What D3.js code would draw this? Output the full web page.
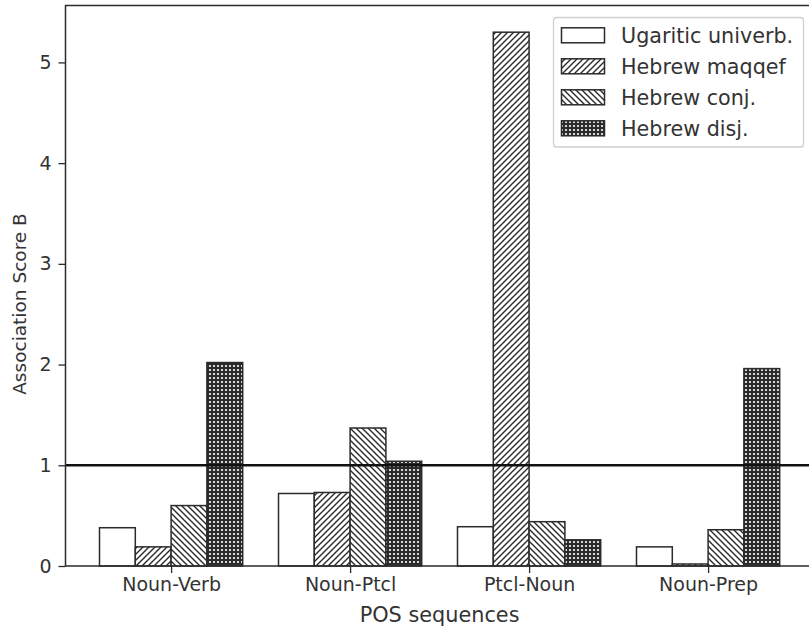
<!DOCTYPE html>
<html>
<head>
<meta charset="utf-8">
<script src="https://cdn.jsdelivr.net/npm/d3@7"></script>
<style>
  html, body { margin: 0; padding: 0; background: #fff; }
  svg { display: block; font-family: "DejaVu Sans", sans-serif; }
</style>
</head>
<body>
<svg id="chart" width="809" height="629"></svg>
<script>
// POS sequence categories on the x axis
const categories = ["Noun-Verb", "Noun-Ptcl", "Ptcl-Noun", "Noun-Prep"];

// Association score B per sequence, one array per series
const ugariticUniverb = [0.38, 0.72, 0.39, 0.19];
const hebrewMaqqef    = [0.19, 0.73, 5.30, 0.02];
const hebrewConj      = [0.60, 1.37, 0.44, 0.36];
const hebrewDisj      = [2.02, 1.04, 0.26, 1.96];

const seriesNames = ["Ugaritic univerb.", "Hebrew maqqef", "Hebrew conj.", "Hebrew disj."];
const seriesValues = [ugariticUniverb, hebrewMaqqef, hebrewConj, hebrewDisj];
const yTicks = [0, 1, 2, 3, 4, 5];
const referenceLine = 1;

const svg = d3.select("#chart");
const ink = "#2b2b2b";

// hatch patterns: none, forward diagonal, back diagonal, dense dots
const defs = svg.append("defs");
const fwd = defs.append("pattern").attr("id", "hatch-fwd")
  .attr("patternUnits", "userSpaceOnUse").attr("width", 6).attr("height", 6);
fwd.append("rect").attr("width", 6).attr("height", 6).attr("fill", "#fff");
fwd.append("path").attr("d", "M-1.5,1.5 L1.5,-1.5 M0,6 L6,0 M4.5,7.5 L7.5,4.5")
  .attr("stroke", ink).attr("stroke-width", 1.4);

const back = defs.append("pattern").attr("id", "hatch-back")
  .attr("patternUnits", "userSpaceOnUse").attr("width", 6).attr("height", 6);
back.append("rect").attr("width", 6).attr("height", 6).attr("fill", "#fff");
back.append("path").attr("d", "M-1.5,4.5 L1.5,7.5 M0,0 L6,6 M4.5,-1.5 L7.5,1.5")
  .attr("stroke", ink).attr("stroke-width", 1.4);

const dots = defs.append("pattern").attr("id", "hatch-dots")
  .attr("patternUnits", "userSpaceOnUse").attr("width", 4).attr("height", 4);
dots.append("rect").attr("width", 4).attr("height", 4).attr("fill", ink);
dots.append("circle").attr("cx", 2).attr("cy", 2).attr("r", 1.1).attr("fill", "#fff");

const fills = ["#fff", "url(#hatch-fwd)", "url(#hatch-back)", "url(#hatch-dots)"];

// plot area
const plotLeft = 65.5, plotTop = 5.5, plotBottom = 566, plotRight = 813.7;
const barWidth = 0.2;

const x = d3.scaleLinear().domain([-0.59, 3.59]).range([plotLeft, plotRight]);
const y = d3.scaleLinear().domain([0, 5.565]).range([plotBottom, plotTop]);

// bars
seriesValues.forEach((vals, s) => {
  svg.append("g").selectAll("rect").data(vals).join("rect")
    .attr("x", (d, i) => x(i - 0.4 + s * barWidth))
    .attr("width", x(barWidth) - x(0))
    .attr("y", d => y(d))
    .attr("height", d => y(0) - y(d))
    .attr("fill", fills[s])
    .attr("stroke", ink)
    .attr("stroke-width", 1.5);
});

// horizontal reference line at B = 1
svg.append("line")
  .attr("x1", plotLeft).attr("x2", plotRight)
  .attr("y1", y(referenceLine)).attr("y2", y(referenceLine))
  .attr("stroke", "#111").attr("stroke-width", 2.6);

// axes
const xAxis = d3.axisBottom(x)
  .tickValues(d3.range(categories.length))
  .tickFormat(i => categories[i])
  .tickSize(7).tickPadding(5);
const gx = svg.append("g").attr("transform", `translate(0,${plotBottom})`).call(xAxis);
gx.select(".domain").remove();

const yAxis = d3.axisLeft(y).tickValues(yTicks).tickFormat(d3.format("d"))
  .tickSize(7).tickPadding(7);
const gy = svg.append("g").attr("transform", `translate(${plotLeft},0)`).call(yAxis);
gy.select(".domain").remove();

[gx, gy].forEach(g => {
  g.selectAll(".tick line").attr("stroke", ink).attr("stroke-width", 1.3);
  g.selectAll(".tick text").attr("fill", "#333").style("font-size", "19px")
    .style("font-family", "DejaVu Sans, sans-serif");
});

// spines: left, bottom, top
svg.append("path")
  .attr("d", `M${plotRight},${plotTop} H${plotLeft} V${plotBottom} H${plotRight}`)
  .attr("fill", "none").attr("stroke", ink).attr("stroke-width", 1.5);

// axis labels
svg.append("text")
  .attr("x", (plotLeft + plotRight) / 2).attr("y", 622)
  .attr("text-anchor", "middle").attr("fill", "#333")
  .style("font-size", "20.8px")
  .text("POS sequences");

svg.append("text")
  .attr("transform", "translate(26,304) rotate(-90)")
  .attr("text-anchor", "middle").attr("fill", "#333")
  .style("font-size", "18.5px")
  .text("Association Score B");

// legend
const legend = svg.append("g");
legend.append("rect")
  .attr("x", 553.5).attr("y", 17.5).attr("width", 250).attr("height", 129.5)
  .attr("rx", 3).attr("fill", "#fff").attr("fill-opacity", 0.85)
  .attr("stroke", "#d0d0d0").attr("stroke-width", 1.3);

seriesNames.forEach((name, s) => {
  const cy = 35.3 + s * 31;
  legend.append("rect")
    .attr("x", 561.5).attr("y", cy - 7.5).attr("width", 43).attr("height", 15)
    .attr("fill", fills[s]).attr("stroke", ink).attr("stroke-width", 1.5);
  legend.append("text")
    .attr("x", 621).attr("y", cy + 7.3)
    .attr("fill", "#333").style("font-size", "20.7px")
    .text(name);
});
</script>
</body>
</html>
